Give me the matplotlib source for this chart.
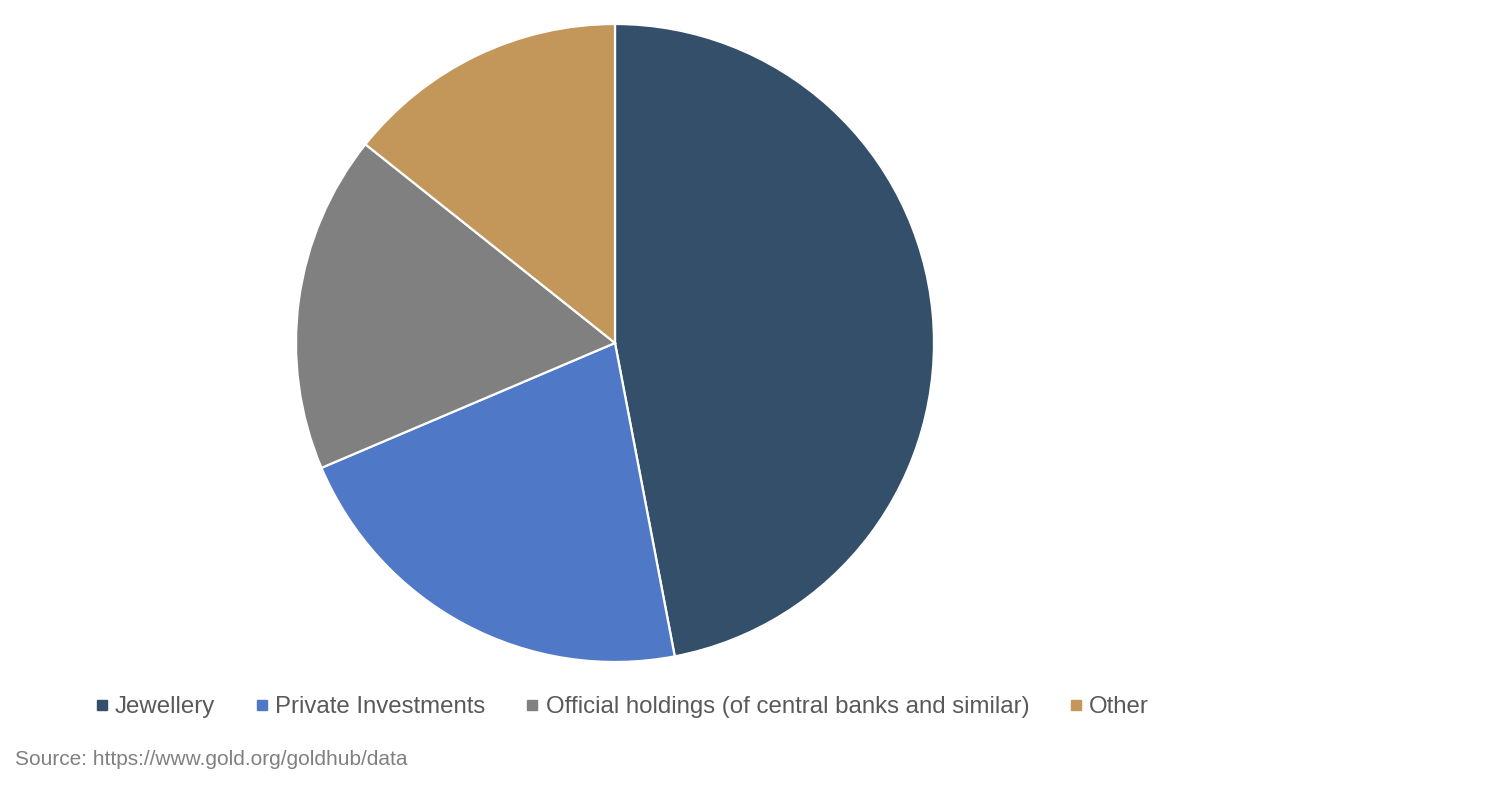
import matplotlib
matplotlib.use("Agg")
import matplotlib.pyplot as plt
from matplotlib.lines import Line2D

plt.rcParams['font.family'] = ['Liberation Sans', 'DejaVu Sans']

# 数据（从图中读取的份额，%）
labels = ['Jewellery', 'Private Investments',
          'Official holdings (of central banks and similar)', 'Other']
shares = [47.0, 21.6, 17.1, 14.3]
colors = ['#344F6A', '#4F79C6', '#808080', '#C39659']

W, H = 1491, 805
fig = plt.figure(figsize=(W / 100, H / 100), dpi=100)

cx, cy, r = 615, 343, 319
ax = fig.add_axes([(cx - r) / W, (H - cy - r) / H, 2 * r / W, 2 * r / H])
ax.pie(shares, colors=colors, startangle=90, counterclock=False,
       radius=1.0, wedgeprops=dict(edgecolor='white', linewidth=1.6))
ax.set_xlim(-1, 1)
ax.set_ylim(-1, 1)
ax.set_aspect('equal')
ax.axis('off')

# 图例
handles = [Line2D([0], [0], marker='s', linestyle='none', markersize=7,
                  markerfacecolor=c, markeredgecolor=c) for c in colors]
fig.legend(handles, labels, loc='center', bbox_to_anchor=(620 / W, 1 - 707 / H),
           ncol=4, frameon=False, fontsize=17.3, labelcolor='#595959',
           handletextpad=0.1, columnspacing=1.5, handlelength=0.9)

fig.text(15 / W, 1 - 759 / H, 'Source: https://www.gold.org/goldhub/data',
         fontsize=15, color='#808080', va='center', ha='left')

fig.savefig('out.png', dpi=100)
